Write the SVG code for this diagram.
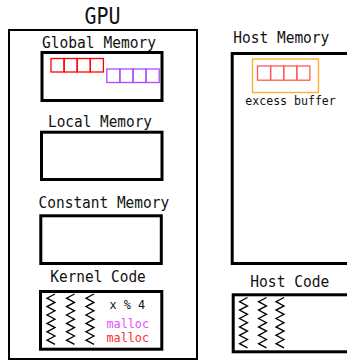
<svg xmlns="http://www.w3.org/2000/svg" xmlns:xlink="http://www.w3.org/1999/xlink" width="347" height="361" viewBox="0 0 347 361">
<style>
.t{font-family:"DejaVu Sans Mono","Liberation Mono",monospace;fill:#111;}
.h{font-size:16px;}
.box{fill:#fff;stroke:#000;stroke-width:3;}
.outer{fill:#fff;stroke:#000;stroke-width:2;}
.zz{fill:none;stroke:#000;stroke-width:1.3;stroke-linejoin:miter;}
.cr{fill:none;stroke:#ff0000;stroke-width:1.3;}
.cp{fill:none;stroke:#a64dff;stroke-width:1.3;}
.ch{fill:none;stroke:#ff5a5a;stroke-width:1.3;}
</style>
<defs>
<polyline id="zig" class="zz" points="8,0 0,4.2 8,8.4 0,12.6 8,16.8 0,21 8,25.2 0,29.4 8,33.6 0,37.8 8,42 0,46.2 8,50.4"/>
</defs>
<rect width="347" height="361" fill="#fff"/>
<g id="gpu">
<text class="t" x="84.5" y="24" font-size="23" textLength="36" lengthAdjust="spacingAndGlyphs">GPU</text>
<rect class="outer" x="9" y="30" width="188" height="329"/>
</g>
<g id="global-memory">
<text class="t h" x="42" y="48.3" textLength="114" lengthAdjust="spacingAndGlyphs">Global Memory</text>
<rect class="box" x="42" y="52.5" width="120" height="48"/>
<g id="red-array">
<rect class="cr" x="51" y="58.5" width="13.1" height="13.5"/>
<rect class="cr" x="64.1" y="58.5" width="13.1" height="13.5"/>
<rect class="cr" x="77.2" y="58.5" width="13.1" height="13.5"/>
<rect class="cr" x="90.3" y="58.5" width="13.1" height="13.5"/>
</g>
<g id="purple-array">
<rect class="cp" x="106.8" y="69" width="13.1" height="13.5"/>
<rect class="cp" x="119.9" y="69" width="13.1" height="13.5"/>
<rect class="cp" x="133" y="69" width="13.1" height="13.5"/>
<rect class="cp" x="146.1" y="69" width="13.1" height="13.5"/>
</g>
</g>
<g id="local-memory">
<text class="t h" x="48" y="126.7" textLength="104" lengthAdjust="spacingAndGlyphs">Local Memory</text>
<rect class="box" x="41.5" y="132.2" width="120.5" height="47.3"/>
</g>
<g id="constant-memory">
<text class="t h" x="38.6" y="208.3" textLength="130.5" lengthAdjust="spacingAndGlyphs">Constant Memory</text>
<rect class="box" x="40.8" y="215.8" width="120.5" height="47.7"/>
</g>
<g id="kernel-code">
<text class="t h" x="50.3" y="281.7" textLength="95.5" lengthAdjust="spacingAndGlyphs">Kernel Code</text>
<rect class="box" x="40.5" y="291.5" width="121.3" height="57.7"/>
<use xlink:href="#zig" href="#zig" x="47" y="294"/>
<use xlink:href="#zig" href="#zig" x="66.5" y="294"/>
<use xlink:href="#zig" href="#zig" x="86" y="294"/>
<text class="t" x="109.5" y="309" font-size="13" textLength="35.5" lengthAdjust="spacingAndGlyphs">x % 4</text>
<text class="t" x="106.5" y="327.7" font-size="13" textLength="42.5" lengthAdjust="spacingAndGlyphs" style="fill:#e04dff">malloc</text>
<text class="t" x="106.5" y="342.3" font-size="13" textLength="42.5" lengthAdjust="spacingAndGlyphs" style="fill:#ff2a2a">malloc</text>
</g>
<g id="host-memory">
<text class="t h" x="233.3" y="42.7" textLength="96" lengthAdjust="spacingAndGlyphs">Host Memory</text>
<rect class="box" x="232.2" y="53.5" width="130" height="210"/>
<rect x="252.5" y="59" width="66" height="33.5" fill="none" stroke="#ffad33" stroke-width="1.4"/>
<g id="excess-array">
<rect class="ch" x="257.5" y="66" width="13.1" height="14.2"/>
<rect class="ch" x="270.6" y="66" width="13.1" height="14.2"/>
<rect class="ch" x="283.7" y="66" width="13.1" height="14.2"/>
<rect class="ch" x="296.8" y="66" width="13.1" height="14.2"/>
</g>
<text class="t" x="245.3" y="105" font-size="13" textLength="90.5" lengthAdjust="spacingAndGlyphs">excess buffer</text>
</g>
<g id="host-code">
<text class="t h" x="250.3" y="286.7" textLength="79" lengthAdjust="spacingAndGlyphs">Host Code</text>
<rect class="box" x="233.2" y="294.8" width="130" height="57"/>
<use xlink:href="#zig" href="#zig" x="239.5" y="297.5"/>
<use xlink:href="#zig" href="#zig" x="258.5" y="297.5"/>
<use xlink:href="#zig" href="#zig" x="276" y="297.5"/>
</g>
<g id="connectors"></g>
</svg>
